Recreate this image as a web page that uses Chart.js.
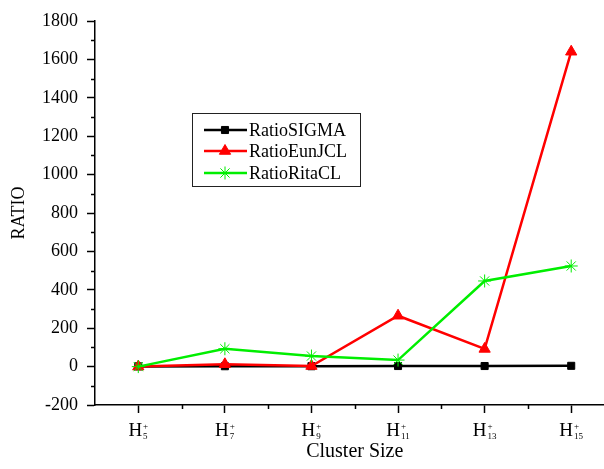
<!DOCTYPE html>
<html>
<head>
<meta charset="utf-8">
<script src="https://cdn.jsdelivr.net/npm/chart.js@4/dist/chart.umd.min.js"></script>
<style>
html,body{margin:0;padding:0;background:#fff;overflow:hidden;width:604px;height:469px;}
#wrap{width:622px;height:469px;}
</style>
</head>
<body>
<div id="wrap"><canvas id="c" width="622" height="469"></canvas></div>
<script>
// ---- data ----
const categories = ['5', '7', '9', '11', '13', '15'];   // H+ cluster subscripts
const ratioSIGMA  = [1, 2, 2, 3, 3, 4];
const ratioEunJCL = [0, 12, 3, 265, 92, 1640];
const ratioRitaCL = [0, 93, 55, 34, 446, 524];
const seriesNames = ['RatioSIGMA', 'RatioEunJCL', 'RatioRitaCL'];
const yMin = -200, yMax = 1800, yStep = 200;

const FONT = '"Liberation Serif", "Times New Roman", serif';

const minorTicks = {
  id: 'minorTicks',
  afterDraw(chart) {
    const ctx = chart.ctx;
    const ys = chart.scales.y, xs = chart.scales.x;
    ctx.save();
    ctx.strokeStyle = '#000';
    ctx.lineWidth = 1.5;
    ctx.beginPath();
    for (let v = yMin + yStep / 2; v < yMax; v += yStep) {
      const py = Math.round(ys.getPixelForValue(v)) + 0.5;
      ctx.moveTo(ys.right - 4, py); ctx.lineTo(ys.right, py);
    }
    for (let i = 0; i < categories.length; i++) {
      const a = xs.getPixelForTick(i);
      const step = (i < categories.length - 1) ? xs.getPixelForTick(i + 1) - a : a - xs.getPixelForTick(i - 1);
      const px = Math.round(a + step / 2) + 0.5;
      ctx.moveTo(px, xs.top); ctx.lineTo(px, xs.top + 4);
    }
    ctx.stroke();
    ctx.restore();
  }
};

const hLabels = {
  id: 'hLabels',
  afterDraw(chart) {
    const ctx = chart.ctx;
    const xs = chart.scales.x;
    ctx.save();
    ctx.fillStyle = '#000';
    ctx.textBaseline = 'alphabetic';
    ctx.textAlign = 'left';
    categories.forEach((n, i) => {
      const cx = xs.getPixelForTick(i);
      ctx.font = '19px ' + FONT;
      const wH = ctx.measureText('H').width;
      ctx.font = '9px ' + FONT;
      const wS = Math.max(ctx.measureText(n).width, ctx.measureText('+').width);
      const x0 = cx - (wH + 1 + wS) / 2;
      ctx.font = '19px ' + FONT;
      ctx.fillText('H', x0, 436);
      ctx.font = '9px ' + FONT;
      ctx.fillText('+', x0 + wH + 1, 429);
      ctx.fillText(n, x0 + wH + 1, 439);
    });
    ctx.restore();
  }
};

const boxLegend = {
  id: 'boxLegend',
  afterDraw(chart) {
    const ctx = chart.ctx;
    ctx.save();
    ctx.strokeStyle = '#222';
    ctx.lineWidth = 1;
    ctx.strokeRect(192.5, 113.5, 168, 73);
    const rowsY = [130, 151, 173];
    chart.data.datasets.forEach((ds, i) => {
      const y = rowsY[i];
      ctx.strokeStyle = ds.borderColor;
      ctx.lineWidth = 2.5;
      ctx.beginPath();
      ctx.moveTo(204, y); ctx.lineTo(247, y);
      ctx.stroke();
      ctx.fillStyle = ds.pointBackgroundColor;
      ctx.strokeStyle = ds.pointBorderColor;
      ctx.lineWidth = ds.pointBorderWidth;
      Chart.helpers.drawPoint(ctx, {
        pointStyle: ds.pointStyle, radius: ds.pointRadius, rotation: 0,
        borderWidth: ds.pointBorderWidth
      }, 225, y);
      ctx.fillStyle = '#000';
      ctx.font = '18px ' + FONT;
      ctx.textBaseline = 'middle';
      ctx.textAlign = 'left';
      ctx.fillText(seriesNames[i], 249, y + 1);
    });
    ctx.restore();
  }
};

new Chart(document.getElementById('c'), {
  type: 'line',
  data: {
    labels: categories,
    datasets: [
      { label: seriesNames[0], data: ratioSIGMA, borderColor: '#000', backgroundColor: '#000',
        pointBackgroundColor: '#000', pointBorderColor: '#000', pointBorderWidth: 1,
        pointStyle: 'rect', pointRadius: 5, borderWidth: 2.5, order: 2 },
      { label: seriesNames[1], data: ratioEunJCL, borderColor: '#ff0000', backgroundColor: '#ff0000',
        pointBackgroundColor: '#ff0000', pointBorderColor: '#ff0000', pointBorderWidth: 1,
        pointStyle: 'triangle', pointRadius: 6.5, borderWidth: 2.5, order: 1 },
      { label: seriesNames[2], data: ratioRitaCL, borderColor: '#00ee00', backgroundColor: '#00ee00',
        pointBackgroundColor: '#00ee00', pointBorderColor: '#00ee00', pointBorderWidth: 1,
        pointStyle: 'star', pointRadius: 6.5, borderWidth: 2.5, order: 0 }
    ]
  },
  options: {
    responsive: false,
    animation: false,
    layout: { padding: { top: 21, right: 2, left: 0, bottom: 0 } },
    plugins: { legend: { display: false }, tooltip: { enabled: false } },
    elements: { line: { tension: 0 } },
    scales: {
      x: {
        type: 'category',
        offset: true,
        afterFit(s) { s.height = 64; },
        border: { color: '#000', width: 1.5 },
        grid: { offset: false, drawOnChartArea: false, drawTicks: true, tickLength: 8, tickColor: '#000', tickWidth: 1.5 },
        ticks: { callback: () => '', padding: 0, maxRotation: 0 },
        title: { display: true, text: 'Cluster Size', color: '#000',
                 font: { family: FONT, size: 20 }, padding: { top: 0, bottom: 5 } }
      },
      y: {
        min: yMin, max: yMax,
        afterFit(s) { s.width = 95; },
        border: { color: '#000', width: 1.5 },
        grid: { drawOnChartArea: false, drawTicks: true, tickLength: 8, tickColor: '#000', tickWidth: 1.5 },
        ticks: { stepSize: yStep, color: '#000', padding: 9, font: { family: FONT, size: 18 },
                 callback: (v) => String(v) },
        title: { display: true, text: 'RATIO', color: '#000',
                 font: { family: FONT, size: 18 }, padding: { top: 8, bottom: 0 } }
      }
    }
  },
  plugins: [minorTicks, hLabels, boxLegend]
});
</script>
</body>
</html>
